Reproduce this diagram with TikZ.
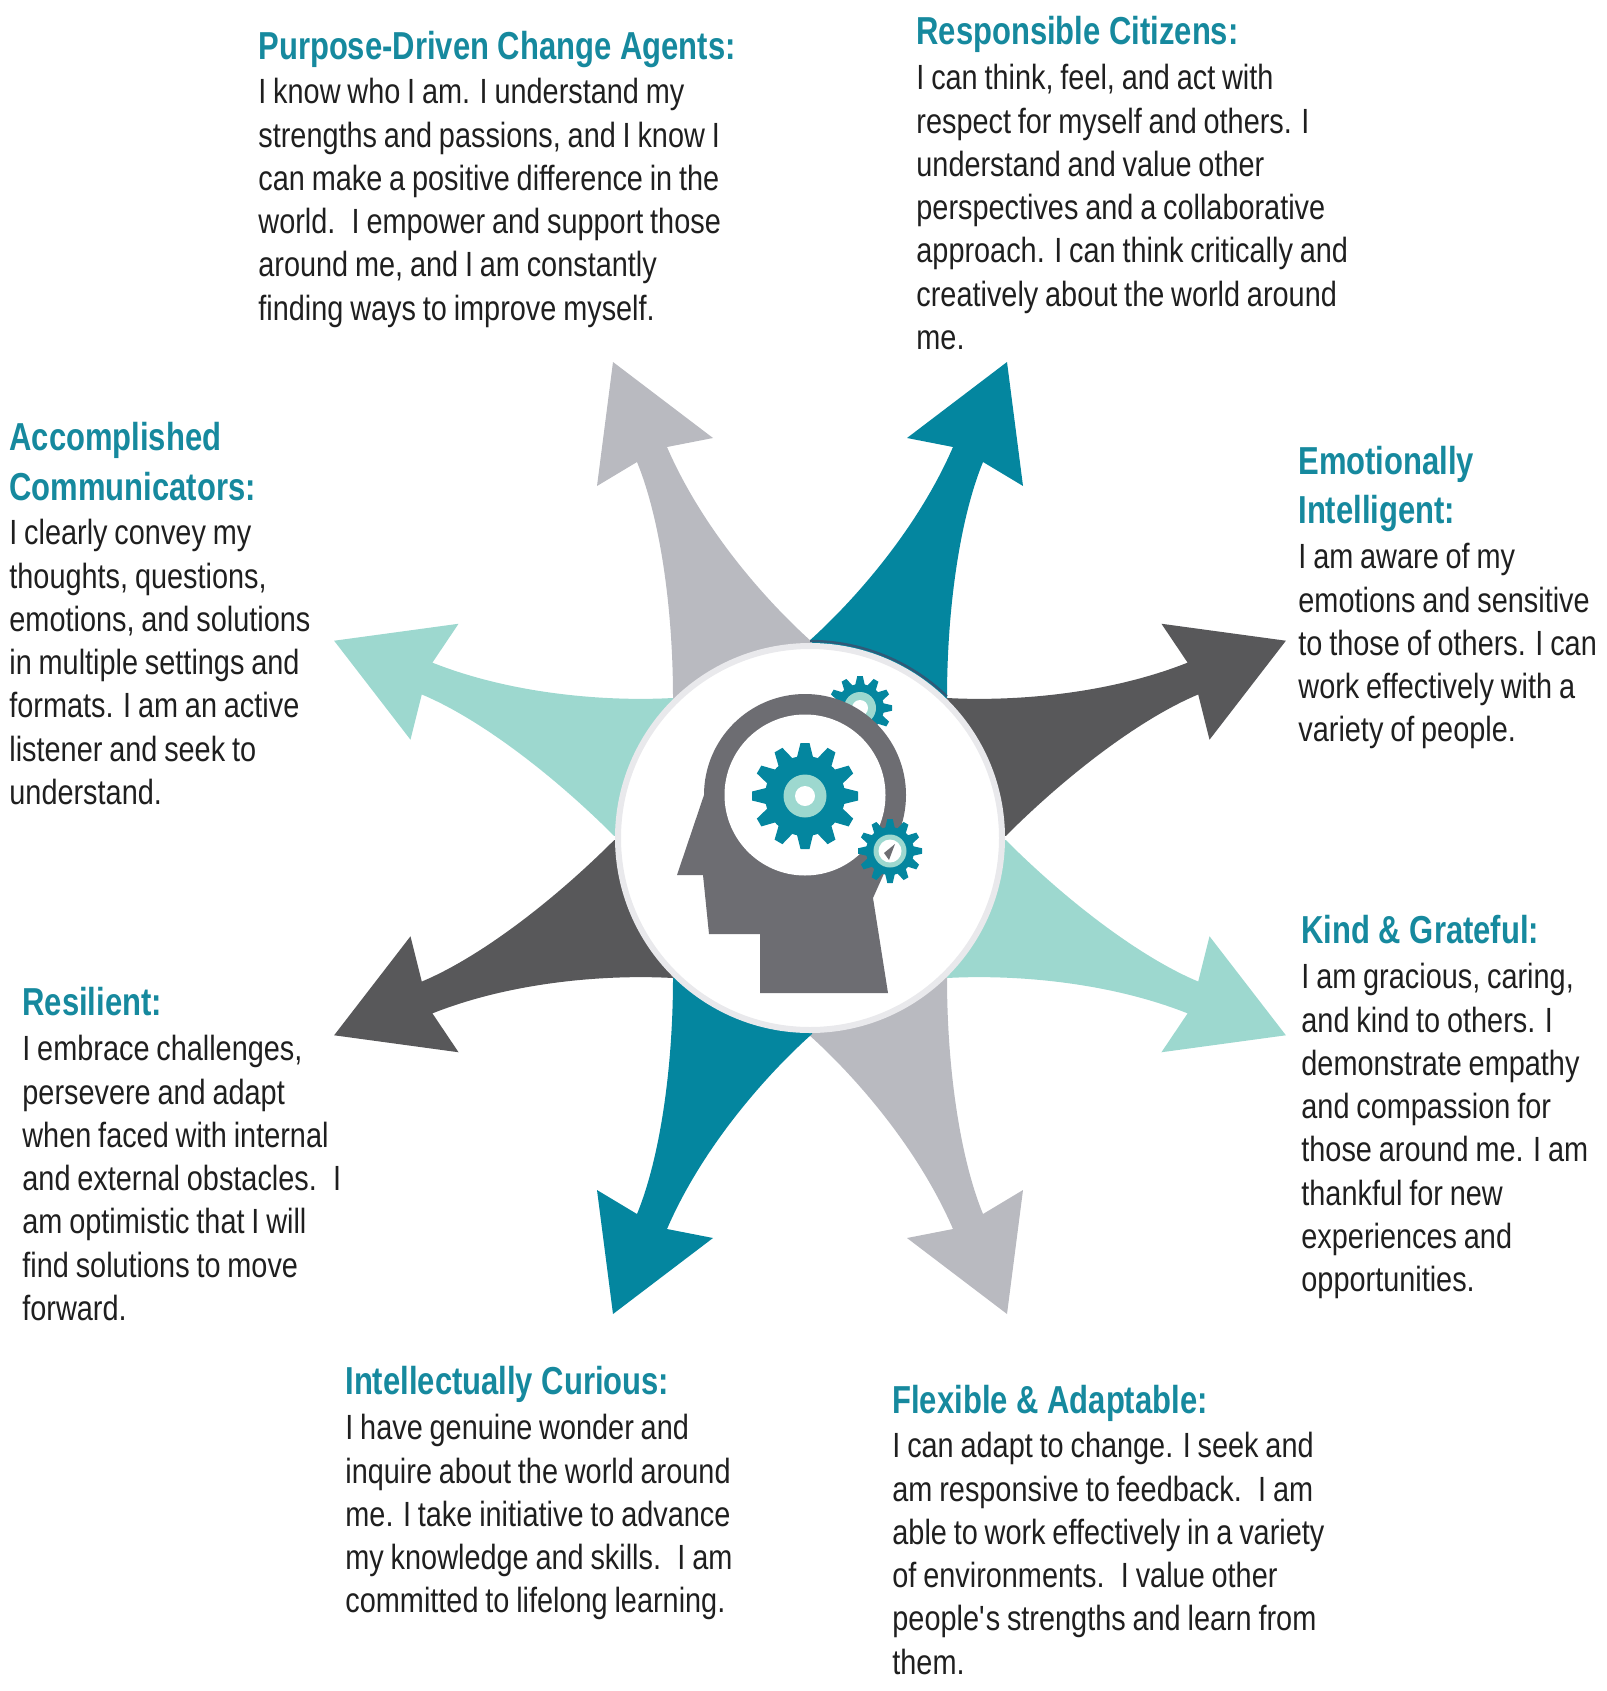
\documentclass[tikz,border=0pt]{standalone}
\usepackage{fontspec}
\setmainfont[FakeStretch=0.825,WordSpace=0.85]{Liberation Sans}
\newfontfamily\headfont[FakeStretch=0.795]{Liberation Sans}
\usetikzlibrary{calc, positioning}
\definecolor{bladeteal}{HTML}{04869F}
\definecolor{bladedark}{HTML}{58585A}
\definecolor{bladelight}{HTML}{9DD8CF}
\definecolor{bladegrey}{HTML}{B9BAC0}
\definecolor{headgrey}{HTML}{6D6D72}
\definecolor{ringgrey}{HTML}{E9E9EC}
\definecolor{headteal}{HTML}{16899E}
\definecolor{shadeblue}{HTML}{2F5A78}
\tikzset{
  headlabel/.style={anchor=base west,inner sep=0pt,align=left,text=headteal,
    font=\headfont\bfseries\fontsize{19.5}{25}\selectfont},
  bodylabel/.style={anchor=north west,inner sep=0pt,align=left,text=black!88,
    font=\fontsize{17.5}{21.65}\selectfont},
}
\newcommand{\bladepath}{(-2,196) .. controls (45,238) and (108,310) .. (143,391) -- (97,400) -- (197,476) -- (213,352) -- (173,376) .. controls (150,320) and (137,230) .. (137,140) -- (0,0) -- cycle}
\newcommand{\gearshape}[3]{%
  \begin{scope}[shift={(#1)}]
    \fill[bladeteal] (0,0) circle[radius=#3];
    \foreach \a in {0,30,...,330}
      \fill[bladeteal,rotate=\a] ({#3-1},{-.15*#2}) -- ({#2},{-.085*#2}) -- ({#2},{.085*#2}) -- ({#3-1},{.15*#2}) -- cycle;
  \end{scope}}
\begin{document}
\begin{tikzpicture}[x=0.5pt,y=-0.5pt]
\useasboundingbox (0,0) rectangle (1606,1691);
%
\begin{scope}[shift={(810,838)},y=0.5pt]
    \fill[bladeteal] \bladepath;
    \fill[bladedark,rotate=-45] \bladepath;
    \fill[bladelight,yscale=-1,rotate=-45] \bladepath;
    \fill[bladegrey,yscale=-1] \bladepath;
    \fill[bladeteal,xscale=-1,yscale=-1] \bladepath;
    \fill[bladedark,xscale=-1,yscale=-1,rotate=-45] \bladepath;
    \fill[bladelight,xscale=-1,rotate=-45] \bladepath;
    \fill[bladegrey,xscale=-1] \bladepath;
    %
    \draw[line width=1.2pt,shadeblue] (90:197) arc[start angle=90,end angle=46,radius=197];
    \draw[ringgrey,fill=white,line width=3pt] (0,0) circle[radius=192];
\end{scope}

%
\gearshape{860,708}{32}{24}
\fill[bladelight] (860,708) circle[radius=16];
\fill[white] (860,708) circle[radius=8];
%
\fill[headgrey] (805,795) circle[radius=101];
\fill[headgrey] (704,795)--(677,875)--(703,875)--(709,934)--(760,934)--(760,993)--(888,993)--(873,898)--(890,860)--(805,795)--cycle;
\fill[white] (805,795) circle[radius=80.5];
%
\gearshape{805,796}{53}{40}
\fill[bladelight] (805,796) circle[radius=21.5];
\fill[white] (805,796) circle[radius=10];
%
\gearshape{890,851}{32}{24}
\fill[bladelight] (890,851) circle[radius=16.5];
\fill[white] (890,851) circle[radius=11.5];
\fill[headgrey] (884,853)--(895,844)--(889,860)--cycle;

%
\node[headlabel] (purposehead) at (258,60) {Purpose-Driven Change Agents:};
\node[bodylabel] (purposebody) at (258,78) {I know who I am. I understand my\\strengths and passions, and I know I\\can make a positive difference in the\\world.~ I empower and support those\\around me, and I am constantly\\finding ways to improve myself.};
%
\node[headlabel] (citizenhead) at (916,45) {Responsible Citizens:};
\node[bodylabel] (citizenbody) at (916,64) {I can think, feel, and act with\\respect for myself and others. I\\understand and value other\\perspectives and a collaborative\\approach. I can think critically and\\creatively about the world around\\me.};
%
\node[headlabel] (emotionhead) at (1298,474) {Emotionally};
\node[headlabel] (emotionheadb) at (1298,523) {Intelligent:};
\node[bodylabel] (emotionbody) at (1298,543) {I am aware of my\\emotions and sensitive\\to those of others. I can\\work effectively with a\\variety of people.};
%
\node[headlabel] (kindhead) at (1301,943) {Kind \& Grateful:};
\node[bodylabel] (kindbody) at (1301,963) {I am gracious, caring,\\and kind to others. I\\demonstrate empathy\\and compassion for\\those around me. I am\\thankful for new\\experiences and\\opportunities.};
%
\node[headlabel] (flexhead) at (892,1413) {Flexible \& Adaptable:};
\node[bodylabel] (flexbody) at (892,1432) {I can adapt to change. I seek and\\am responsive to feedback.~ I am\\able to work effectively in a variety\\of environments.~ I value other\\people\textquotesingle s strengths and learn from\\them.};
%
\node[headlabel] (curioushead) at (345,1394) {Intellectually Curious:};
\node[bodylabel] (curiousbody) at (345,1414) {I have genuine wonder and\\inquire about the world around\\me. I take initiative to advance\\my knowledge and skills.~ I am\\committed to lifelong learning.};
%
\node[headlabel] (resilienthead) at (22,1015) {Resilient:};
\node[bodylabel] (resilientbody) at (22,1035) {I embrace challenges,\\persevere and adapt\\when faced with internal\\and external obstacles.~ I\\am optimistic that I will\\find solutions to move\\forward.};
%
\node[headlabel] (speakhead) at (9,450) {Accomplished};
\node[headlabel] (speakheadb) at (9,500) {Communicators:};
\node[bodylabel] (speakbody) at (9,519) {I clearly convey my\\thoughts, questions,\\emotions, and solutions\\in multiple settings and\\formats. I am an active\\listener and seek to\\understand.};
\end{tikzpicture}
\end{document}
